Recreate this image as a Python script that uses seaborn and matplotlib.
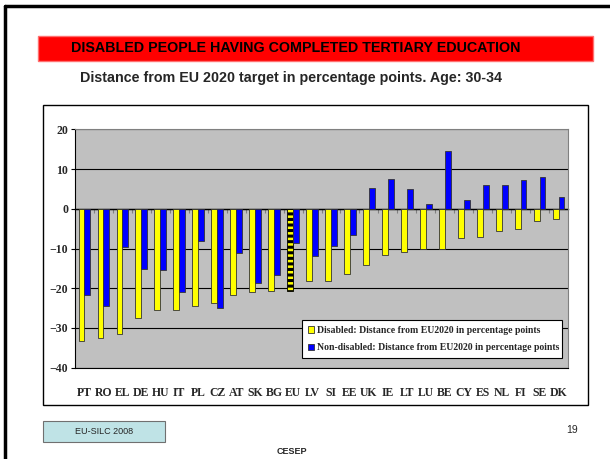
import numpy as np
import pandas as pd
import matplotlib
matplotlib.use("Agg")
import matplotlib.pyplot as plt
from matplotlib.patches import Rectangle
from matplotlib.lines import Line2D
import seaborn as sns

# valores (pontos percentuais até a meta EU2020)
countries = ['PT', 'RO', 'EL', 'DE', 'HU', 'IT', 'PL', 'CZ', 'AT', 'SK', 'BG', 'EU', 'LV', 'SI',
             'EE', 'UK', 'IE', 'LT', 'LU', 'BE', 'CY', 'ES', 'NL', 'FI', 'SE', 'DK']
disabled = [-33.2, -32.6, -31.5, -27.4, -25.4, -25.4, -24.4, -23.8, -21.6, -21.0, -20.7, -20.8, -18.1,
            -18.1, -16.3, -14.1, -11.7, -10.8, -10.2, -10.0, -7.4, -7.0, -5.5, -5.0, -3.2, -2.7]
non_disabled = [-21.6, -24.4, -9.6, -15.1, -15.5, -21.0, -8.1, -24.9, -11.1, -18.7, -16.7, -8.5, -12.0,
                -9.4, -6.5, 5.2, 7.5, 4.9, 1.2, 14.6, 2.3, 5.9, 5.9, 7.3, 8.1, 2.9]
series_names = ['Disabled: Distance from EU2020 in percentage points',
                'Non-disabled: Distance from EU2020 in percentage points']
y_ticks = [-40, -30, -20, -10, 0, 10, 20]

df = pd.DataFrame({
    'country': countries * 2,
    'value': disabled + non_disabled,
    'group': [series_names[0]] * len(countries) + [series_names[1]] * len(countries),
})

W, H = 610, 459
plt.rcParams['hatch.linewidth'] = 2.2
sns.set_style("white")
plt.rcParams['font.family'] = ['Liberation Serif', 'DejaVu Serif']

fig = plt.figure(figsize=(W / 100, H / 100), dpi=100)

def fx(x):
    return x / W

def fy(y):
    return 1 - y / H

# moldura do slide
fig.add_artist(Line2D([fx(4.5), fx(4.5)], [0, fy(5.5)], color='black', lw=2.5))
fig.add_artist(Line2D([fx(4.5), 1], [fy(5.5), fy(5.5)], color='black', lw=2.5))

# faixa vermelha do título
fig.patches.append(Rectangle((fx(38), fy(61)), fx(593) - fx(38), fy(36) - fy(61),
                             transform=fig.transFigure, facecolor='#FF0000',
                             edgecolor='#FF7070', lw=1, zorder=-2))
fig.text(fx(296), fy(48), 'DISABLED PEOPLE HAVING COMPLETED TERTIARY EDUCATION',
         family='Liberation Sans', weight='bold', fontsize=10.3, ha='center', va='center',
         color='black', zorder=5)
fig.text(fx(291), fy(78), 'Distance from EU 2020 target in percentage points. Age: 30-34',
         family='Liberation Sans', weight='bold', fontsize=10.3, ha='center', va='center')

# caixa branca do gráfico
fig.patches.append(Rectangle((fx(43), fy(405)), fx(588) - fx(43), fy(105) - fy(405),
                             transform=fig.transFigure, facecolor='white',
                             edgecolor='black', lw=1, zorder=-2))

ax = fig.add_axes([fx(75), fy(367.7), fx(568) - fx(75), fy(129.3) - fy(367.7)])
sns.barplot(data=df, x='country', y='value', hue='group', hue_order=series_names,
            palette=['#FFFF00', '#0000FF'], width=0.62, edgecolor='#333333',
            linewidth=0.6, ax=ax, saturation=1)

# barra EU tracejada
eu_bar = ax.containers[0][countries.index('EU')]
eu_bar.set_hatch('---')
eu_bar.set_edgecolor('black')

ax.set_facecolor('#C0C0C0')
ax.set_ylim(-40, 20)
ax.set_xlim(-0.5, len(countries) - 0.5)
ax.set_yticks(y_ticks)
ax.set_xlabel('')
ax.set_ylabel('')
ax.yaxis.grid(True, color='black', lw=0.8)
ax.set_axisbelow(True)
for side in ['top', 'right']:
    ax.spines[side].set_color('#808080')
ax.spines['left'].set_color('black')
ax.spines['bottom'].set_color('black')
ax.tick_params(axis='y', length=3, direction='out', color='black', left=True, pad=2,
               labelsize=8.5)
ax.tick_params(axis='x', length=0, pad=14, labelsize=8.5)
for lab in ax.get_xticklabels() + ax.get_yticklabels():
    lab.set_fontweight('bold')

# eixo do zero com marcas entre categorias
sec = ax.secondary_xaxis(0, transform=ax.transData)
sec.set_xticks(np.arange(1, len(countries)) - 0.5)
sec.tick_params(axis='x', length=3, direction='out', color='#808080', labelbottom=False)
sec.spines['bottom'].set_color('black')
sec.spines['bottom'].set_linewidth(1)

leg = ax.legend(loc='lower left', bbox_to_anchor=(fx(297), fy(363), fx(567) - fx(297), fy(311) - fy(363)),
                bbox_transform=fig.transFigure, mode='expand', frameon=True, fancybox=False,
                edgecolor='black', framealpha=1, prop={'weight': 'bold', 'size': 7},
                handlelength=0.7, handleheight=0.7, handletextpad=0.3, borderpad=0.6,
                labelspacing=0.9)
leg.get_frame().set_linewidth(0.8)

# rodapé
fig.patches.append(Rectangle((fx(43), fy(442)), fx(165) - fx(43), fy(421) - fy(442),
                             transform=fig.transFigure, facecolor='#BFE3E6',
                             edgecolor='#707070', lw=0.8, zorder=-2))
fig.text(fx(104), fy(431.5), 'EU-SILC 2008', family='Liberation Sans', fontsize=6.5,
         ha='center', va='center')
fig.text(fx(292), fy(452), 'CESEP', family='Liberation Sans', weight='bold', fontsize=6.5,
         ha='center', va='center')
fig.text(fx(572), fy(430), '19', family='Liberation Sans', fontsize=7.5,
         ha='center', va='center')

fig.savefig('out.png', dpi=100)
